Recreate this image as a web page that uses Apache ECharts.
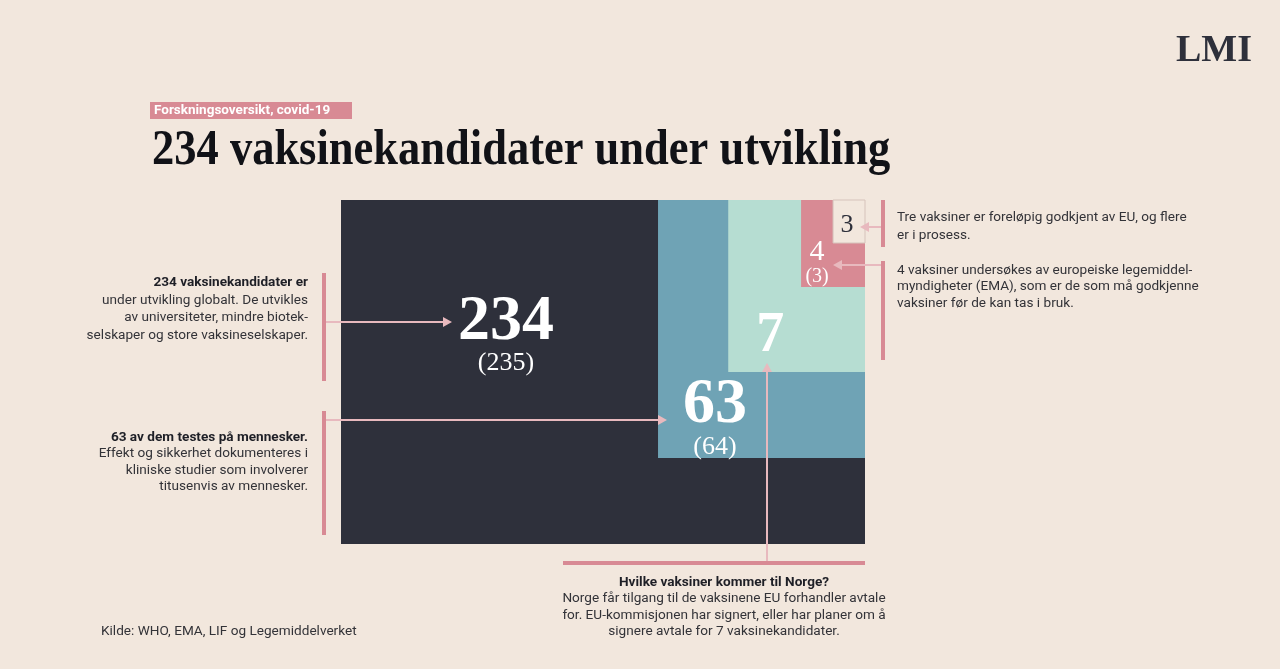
<!DOCTYPE html>
<html><head><meta charset="utf-8">
<script src="https://cdn.jsdelivr.net/npm/echarts@6/dist/echarts.min.js"></script>
<style>html,body{margin:0;padding:0;background:#f2e7dd;}#c{width:1280px;height:669px;}</style>
</head><body><div id="c"></div>
<script>
// ---- data ----
const categories = ['Under utvikling', 'Testes på mennesker', 'EU-avtaler', 'Under vurdering (EMA)', 'Godkjent i EU'];
const counts = [234, 63, 7, 4, 3];
const previous = [235, 64, null, 3, null];
// nested block extents in axis units (0-100), anchored top-right
const spanX = [100, 39.5, 26.1, 12.2, 6.1];
const spanY = [100, 75, 50, 25.3, 12.5];

const colors = ['#2e303b', '#6fa3b5', '#b6ddd2', '#d88a94', '#f2e7dd'];
const labelLayout = [
  {dx: 165, dy: 122, size: 64, w: 'bold', sub: 26, subDy: 163, fill: '#ffffff'},
  {dx: 57, dy: 205, size: 64, w: 'bold', sub: 26, subDy: 247, fill: '#ffffff'},
  {dx: 42, dy: 137, size: 56, w: 'bold', sub: 0, subDy: 0, fill: '#ffffff'},
  {dx: 16, dy: 52, size: 30, w: 'normal', sub: 20, subDy: 77, fill: '#ffffff'},
  {dx: 14, dy: 25, size: 26, w: 'normal', sub: 0, subDy: 0, fill: '#2e303b'}
];
const SERIF = '"Liberation Serif", "DejaVu Serif", serif';
const SANS = 'Roboto, "Noto Sans", sans-serif';

const chart = echarts.init(document.getElementById('c'), null, {renderer: 'canvas'});
const data = categories.map((c, i) => ({name: c, value: [spanX[i], spanY[i], counts[i], previous[i]]}));

function renderItem(params, api) {
  const i = params.dataIndex;
  const w = api.value(0), h = api.value(1);
  const p0 = api.coord([100 - w, 100]);
  const p1 = api.coord([100, 100 - h]);
  const L = labelLayout[i];
  const children = [{
    type: 'rect',
    shape: {x: p0[0], y: p0[1], width: p1[0] - p0[0], height: p1[1] - p0[1]},
    style: {fill: colors[i], stroke: i === 4 ? '#d6c3bb' : null, lineWidth: i === 4 ? 1 : 0}
  }, {
    type: 'text',
    style: {text: String(api.value(2)), x: p0[0] + L.dx, y: p0[1] + L.dy,
      font: L.w + ' ' + L.size + 'px ' + SERIF, fill: L.fill, align: 'center', verticalAlign: 'middle'}
  }];
  const prev = previous[i];
  if (prev != null && L.sub) {
    children.push({type: 'text', style: {text: '(' + prev + ')', x: p0[0] + L.dx, y: p0[1] + L.subDy,
      font: L.sub + 'px ' + SERIF, fill: L.fill, align: 'center', verticalAlign: 'middle'}});
  }
  return {type: 'group', children};
}

const pink = '#d88a94', light = '#e8b9be';
function arrowH(x0, x1, y) {
  const dir = x1 > x0 ? 1 : -1;
  return [
    {type: 'line', shape: {x1: x0, y1: y, x2: x1 - dir * 6, y2: y}, style: {stroke: light, lineWidth: 2}, z: 10},
    {type: 'polygon', shape: {points: [[x1, y], [x1 - dir * 9, y - 5], [x1 - dir * 9, y + 5]]}, style: {fill: light}, z: 10}
  ];
}
function bar(x, y, w, h) { return {type: 'rect', shape: {x, y, width: w, height: h}, style: {fill: pink}, z: 10}; }
function para(x, y, align, bold, rest, lh) {
  return {type: 'text', z: 10, style: {
    x, y, align, verticalAlign: 'top',
    text: '{b|' + bold + '}\n' + rest.map(r => '{n|' + r + '}').join('\n'),
    rich: {
      b: {fontFamily: SANS, fontWeight: 'bold', fontSize: 13.6, fill: '#1e1f26', lineHeight: lh, align},
      n: {fontFamily: SANS, fontSize: 13.6, fill: '#333338', lineHeight: lh, align}
    }}};
}
function paraPlain(x, y, lines, lh) {
  return {type: 'text', z: 10, style: {x, y, align: 'left', verticalAlign: 'top', text: lines.join('\n'),
    fontFamily: SANS, fontSize: 13.6, fill: '#333338', lineHeight: lh}};
}

const graphic = [
  {type: 'text', x: 1214, y: 51, style: {text: 'LMI', font: 'bold 38px ' + SERIF, fill: '#2e303b', align: 'center', verticalAlign: 'middle'}},
  {type: 'rect', shape: {x: 150, y: 102, width: 202, height: 17}, style: {fill: pink}},
  {type: 'text', x: 154, y: 110.5, style: {text: 'Forskningsoversikt, covid-19', font: 'bold 13.5px ' + SANS, fill: '#ffffff', verticalAlign: 'middle'}},
  {type: 'text', x: 152, y: 151, scaleX: 0.89, style: {text: '234 vaksinekandidater under utvikling', font: 'bold 50px ' + SERIF, fill: '#111217', verticalAlign: 'middle'}},
  // left annotations
  bar(322, 273, 4, 108),
  ...arrowH(326, 452, 322),
  para(308, 274, 'right', '234 vaksinekandidater er', ['under utvikling globalt. De utvikles', 'av universiteter, mindre biotek-', 'selskaper og store vaksineselskaper.'], 17.5),
  bar(322, 411, 4, 124),
  ...arrowH(326, 667, 420),
  para(308, 429, 'right', '63 av dem testes på mennesker.', ['Effekt og sikkerhet dokumenteres i', 'kliniske studier som involverer', 'titusenvis av mennesker.'], 16.5),
  // right annotations
  bar(881, 200, 4, 47),
  ...arrowH(881, 860, 227),
  paraPlain(897, 209, ['Tre vaksiner er foreløpig godkjent av EU, og flere', 'er i prosess.'], 18),
  bar(881, 261, 4, 99),
  ...arrowH(881, 833, 265),
  paraPlain(897, 262, ['4 vaksiner undersøkes av europeiske legemiddel-', 'myndigheter (EMA), som er de som må godkjenne', 'vaksiner før de kan tas i bruk.'], 16.5),
  // bottom annotation
  bar(563, 561, 302, 4),
  {type: 'line', shape: {x1: 767, y1: 561, x2: 767, y2: 370}, style: {stroke: light, lineWidth: 2}, z: 10},
  {type: 'polygon', shape: {points: [[767, 363], [762, 372], [772, 372]]}, style: {fill: light}, z: 10},
  para(724, 574, 'center', 'Hvilke vaksiner kommer til Norge?', ['Norge får tilgang til de vaksinene EU forhandler avtale', 'for. EU-kommisjonen har signert, eller har planer om å', 'signere avtale for 7 vaksinekandidater.'], 16.5),
  {type: 'text', x: 101, y: 632, style: {text: 'Kilde: WHO, EMA, LIF og Legemiddelverket', font: '13.6px ' + SANS, fill: '#333338', verticalAlign: 'middle'}}
];

chart.setOption({
  backgroundColor: '#f2e7dd',
  animation: false,
  grid: {left: 341, top: 200, width: 524, height: 344},
  xAxis: {type: 'value', min: 0, max: 100, show: false},
  yAxis: {type: 'value', min: 0, max: 100, show: false},
  series: [{type: 'custom', renderItem, data, clip: false}],
  graphic
});
</script></body></html>
